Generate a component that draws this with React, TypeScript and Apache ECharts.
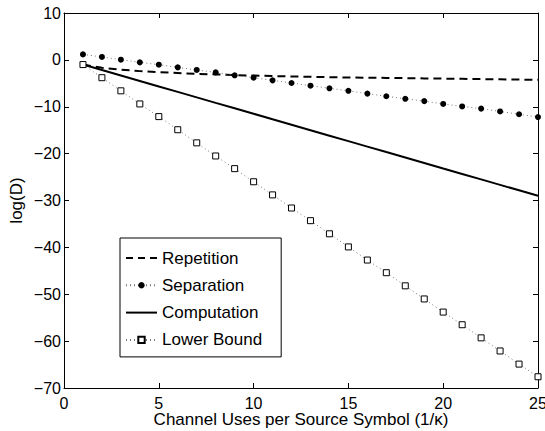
import React, { useEffect, useRef } from "react";
import * as echarts from "echarts";

const xValues = [1, 2, 3, 4, 5, 6, 7, 8, 9, 10, 11, 12, 13, 14, 15, 16, 17, 18, 19, 20, 21, 22, 23, 24, 25];
const repetition = [-1.0, -1.7, -2.1, -2.4, -2.6, -2.8, -3.0, -3.1, -3.25, -3.35, -3.45, -3.55, -3.6, -3.7, -3.75, -3.8, -3.85, -3.9, -3.95, -4.0, -4.05, -4.1, -4.15, -4.2, -4.25];
const separation = [1.17, 0.62, 0.04, -0.53, -1.02, -1.6, -2.15, -2.67, -3.3, -3.8, -4.37, -4.93, -5.5, -6.06, -6.6, -7.2, -7.76, -8.3, -8.8, -9.4, -9.94, -10.4, -11.0, -11.6, -12.2];
const computation = [-1, -2.17, -3.33, -4.5, -5.67, -6.83, -8, -9.17, -10.33, -11.5, -12.67, -13.83, -15, -16.17, -17.33, -18.5, -19.67, -20.83, -22, -23.17, -24.33, -25.5, -26.67, -27.83, -29];
const lowerBound = [-1, -3.8, -6.6, -9.4, -12.1, -14.9, -17.7, -20.5, -23.2, -26.0, -28.8, -31.6, -34.3, -37.1, -39.9, -42.7, -45.4, -48.2, -51.0, -53.8, -56.5, -59.3, -62.1, -64.9, -67.6];
const seriesNames = ["Repetition", "Separation", "Computation", "Lower Bound"];
const xName = "Channel Uses per Source Symbol (1/\u03ba)";
const yName = "log(D)";

const pair = (ys: number[]) => xValues.map((x, i) => [x, ys[i]]);
const minus = (v: number) => String(v).replace("-", "\u2212");

export default function App() {
  const ref = useRef<HTMLDivElement>(null);
  useEffect(() => {
    const chart = echarts.init(ref.current!, undefined, { renderer: "svg" });
    const font = "Liberation Sans, Arial, Helvetica, sans-serif";
    const tick = { show: true, inside: true, length: 5, lineStyle: { color: "#000" } };
    const line = { show: true, onZero: false, lineStyle: { color: "#000", width: 1 } };
    chart.setOption({
      animation: false,
      backgroundColor: "#fff",
      textStyle: { fontFamily: font },
      grid: { left: 64, right: 7, top: 13, bottom: 43, containLabel: false, outerBoundsMode: "none" },
      legend: {
        data: [
          { name: seriesNames[0], icon: "path://M0,0h7v2h-7zM12,0h7v2h-7zM24,0h7v2h-7z", itemStyle: { borderWidth: 0 } },
          { name: seriesNames[1] },
          { name: seriesNames[2], icon: "path://M0,0h31v2h-31z", itemStyle: { borderWidth: 0 } },
          { name: seriesNames[3] },
        ],
        orient: "vertical",
        left: 120,
        top: 238,
        itemWidth: 31,
        itemHeight: 8,
        itemGap: 10.3,
        padding: [11.5, 19, 8.5, 5],
        borderColor: "#000",
        borderWidth: 1,
        borderRadius: 0,
        backgroundColor: "#fff",
        textStyle: { fontFamily: font, fontSize: 17, lineHeight: 17, color: "#000" },
      },
      xAxis: [
        {
          type: "value",
          min: 0,
          max: 25,
          interval: 5,
          position: "bottom",
          axisLine: line,
          splitLine: { show: false },
          axisTick: tick,
          axisLabel: { color: "#000", fontSize: 16, fontFamily: font, margin: 7 },
          name: xName,
          nameLocation: "middle",
          nameGap: 23,
          nameMoveOverlap: false,
          nameTextStyle: { color: "#000", fontSize: 17, fontFamily: font },
        },
        {
          type: "value",
          min: 0,
          max: 25,
          interval: 5,
          position: "top",
          axisLine: line,
          splitLine: { show: false },
          axisTick: tick,
          axisLabel: { show: false },
        },
      ],
      yAxis: [
        {
          type: "value",
          min: -70,
          max: 10,
          interval: 10,
          position: "left",
          axisLine: line,
          splitLine: { show: false },
          axisTick: tick,
          axisLabel: { color: "#000", fontSize: 16, fontFamily: font, margin: 3, formatter: minus },
          name: yName,
          nameLocation: "middle",
          nameGap: 39,
          nameMoveOverlap: false,
          nameTextStyle: { color: "#000", fontSize: 17, fontFamily: font },
        },
        {
          type: "value",
          min: -70,
          max: 10,
          interval: 10,
          position: "right",
          axisLine: line,
          splitLine: { show: false },
          axisTick: tick,
          axisLabel: { show: false },
        },
      ],
      series: [
        {
          name: seriesNames[0],
          type: "line",
          data: pair(repetition),
          symbol: "none",
          lineStyle: { color: "#000", width: 2, type: [8, 5] },
          itemStyle: { color: "#000" },
        },
        {
          name: seriesNames[1],
          type: "line",
          data: pair(separation),
          symbol: "circle",
          symbolSize: 6,
          lineStyle: { color: "#777", width: 1, type: [1, 3] },
          itemStyle: { color: "#000", borderWidth: 0 },
        },
        {
          name: seriesNames[2],
          type: "line",
          data: pair(computation),
          symbol: "none",
          lineStyle: { color: "#000", width: 2 },
          itemStyle: { color: "#000" },
        },
        {
          name: seriesNames[3],
          type: "line",
          data: pair(lowerBound),
          symbol: "rect",
          symbolSize: 6,
          lineStyle: { color: "#777", width: 1, type: [1, 3] },
          itemStyle: { color: "#fff", borderColor: "#000", borderWidth: 1 },
        },
      ],
    });
    return () => chart.dispose();
  }, []);
  return <div ref={ref} style={{ width: 545, height: 431, position: "absolute", left: 0, top: 0 }} />;
}
